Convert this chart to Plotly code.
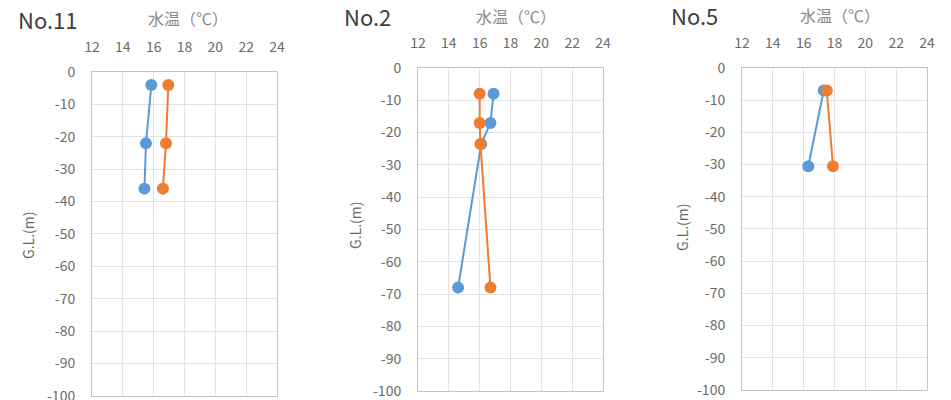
import plotly.graph_objects as go

# ---- data ----
panel_titles = ["No.11", "No.2", "No.5"]
x_title = "水温（℃）"
y_title = "G.L.(m)"
x_ticks = [12, 14, 16, 18, 20, 22, 24]
y_ticks = [0, -10, -20, -30, -40, -50, -60, -70, -80, -90, -100]

no11_depth = [-4, -22, -36]
no11_blue = [15.85, 15.5, 15.4]
no11_orange = [16.95, 16.8, 16.6]

no2_depth = [-8, -17, -23.5, -68]
no2_blue = [16.9, 16.7, 16.1, 14.6]
no2_orange = [16.0, 16.0, 16.05, 16.7]

no5_depth = [-7, -30.5]
no5_blue = [17.3, 16.3]
no5_orange = [17.5, 17.9]

BLUE = "#5B9BD5"
ORANGE = "#ED7D31"
FONT = "Noto Sans CJK JP"
W, H = 951, 400

panels = [
    (no11_depth, no11_blue, no11_orange),
    (no2_depth, no2_blue, no2_orange),
    (no5_depth, no5_blue, no5_orange),
]
# plot-area pixel boxes (left, right, top, bottom)
boxes = [(92, 277, 72, 396), (418, 603, 68, 391), (742, 927, 68, 390)]
title_pos = [(48, 19), (367, 16), (694, 15)]
xt_pos = [(188, 18), (516, 16), (840, 15)]
yt_pos = [(28, 236), (355, 226), (682, 228)]

fig = go.Figure()
layout = dict(
    width=W, height=H, margin=dict(l=0, r=0, t=0, b=0, autoexpand=False),
    paper_bgcolor="white", plot_bgcolor="white", showlegend=False,
    font=dict(family=FONT, color="#666666", size=13),
)
annotations = []
for i, ((d, b, o), (l, r, t, bt)) in enumerate(zip(panels, boxes)):
    sfx = "" if i == 0 else str(i + 1)
    xa, ya = "x" + sfx, "y" + sfx
    for vals, col in ((b, BLUE), (o, ORANGE)):
        fig.add_trace(go.Scatter(
            x=vals, y=d, mode="lines+markers", xaxis=xa, yaxis=ya,
            line=dict(color=col, width=2),
            marker=dict(color=col, size=12),
        ))
    layout["xaxis" + sfx] = dict(
        domain=[l / W, r / W], anchor=ya, side="top", range=[12, 24],
        tickvals=x_ticks, ticktext=[str(v) for v in x_ticks],
        showgrid=True, gridcolor="#e3e3e3", gridwidth=1,
        showline=True, mirror=True, linecolor="#c4c4c4", linewidth=1,
        zeroline=False, ticks="", ticklabelstandoff=13, automargin=False,
        ticklabeloverflow="allow",
        tickfont=dict(size=14, color="#6b6b6b", family=FONT), fixedrange=True,
    )
    layout["yaxis" + sfx] = dict(
        domain=[1 - bt / H, 1 - t / H], anchor=xa, range=[-100.01, 0],
        tickvals=y_ticks, ticktext=[str(v) for v in y_ticks],
        showgrid=True, gridcolor="#e3e3e3", gridwidth=1,
        showline=True, mirror=True, linecolor="#c4c4c4", linewidth=1,
        zeroline=False, ticks="", ticklabelstandoff=13, automargin=False,
        ticklabeloverflow="allow",
        tickfont=dict(size=14, color="#6b6b6b", family=FONT), fixedrange=True,
    )
    tx, ty = title_pos[i]
    annotations.append(dict(text=panel_titles[i], x=tx / W, y=1 - ty / H,
                            xanchor="center", yanchor="middle",
                            xref="paper", yref="paper", showarrow=False,
                            font=dict(size=22, color="#404040", family=FONT)))
    ax_, ay_ = xt_pos[i]
    annotations.append(dict(text=x_title, x=ax_ / W, y=1 - ay_ / H,
                            xanchor="center", yanchor="middle",
                            xref="paper", yref="paper", showarrow=False,
                            font=dict(size=16, color="#8a8a8a", family=FONT)))
    gx, gy = yt_pos[i]
    annotations.append(dict(text=y_title, x=gx / W, y=1 - gy / H, textangle=-90,
                            xanchor="center", yanchor="middle",
                            xref="paper", yref="paper", showarrow=False,
                            font=dict(size=14, color="#666666", family=FONT)))
layout["annotations"] = annotations
fig.update_layout(**layout)
fig.write_html("out.html", config={"displayModeBar": False})

# remove the browser's default page margin so the figure sits at (0, 0)
with open("out.html", encoding="utf-8") as f:
    html = f.read()
html = html.replace("<head>", "<head><style>html,body{margin:0;padding:0;overflow:hidden;}</style>", 1)
with open("out.html", "w", encoding="utf-8") as f:
    f.write(html)
